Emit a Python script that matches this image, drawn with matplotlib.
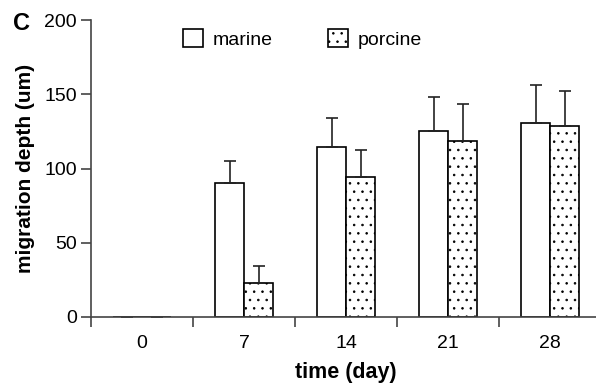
import numpy as np
import matplotlib
matplotlib.use("Agg")
import matplotlib.pyplot as plt

plt.rcParams['font.family'] = ['Liberation Sans', 'DejaVu Sans']
plt.rcParams['hatch.color'] = '#a0a0a0'
plt.rcParams['hatch.linewidth'] = 0.6

# data
days = ['0', '7', '14', '21', '28']
marine = [0, 90, 114.5, 125, 131]
marine_err = [0, 15, 19.5, 23, 25]
porcine = [0, 23, 94, 118.5, 129]
porcine_err = [0, 11.5, 18.5, 25, 23.5]

fig = plt.figure(figsize=(5.96, 3.88), dpi=100)
ax = fig.add_axes([0.1527, 0.183, 0.856, 0.765])

x = np.arange(len(days))
w = 0.285
ax.bar(x - w/2, marine, w, color='white', edgecolor='black', linewidth=1.2, label='marine')
ax.bar(x + w/2, porcine, w, color='white', edgecolor='black', linewidth=1.2,
       hatch='..', label='porcine')
ax.errorbar(x - w/2, marine, yerr=[np.zeros(len(x)), marine_err], fmt='none',
            ecolor='#222222', elinewidth=1.2, capsize=4, capthick=1.2)
ax.errorbar(x + w/2, porcine, yerr=[np.zeros(len(x)), porcine_err], fmt='none',
            ecolor='#222222', elinewidth=1.2, capsize=4, capthick=1.2)

ax.set_xlim(-0.5, 4.5)
ax.set_ylim(0, 200)
ax.set_yticks([0, 50, 100, 150, 200])
ax.set_xticks(np.arange(-0.5, 4.5, 1))
ax.set_xticklabels([])
ax.set_xticks(x, minor=True)
ax.set_xticklabels(days, minor=True)
ax.tick_params(axis='x', which='minor', length=0, pad=13, labelsize=14)
ax.tick_params(axis='x', which='major', length=7, width=1.2, color='#444444')
ax.tick_params(axis='y', length=7, width=1.2, color='#444444', labelsize=14, pad=3)
for s in ['top', 'right']:
    ax.spines[s].set_visible(False)
for s in ['left', 'bottom']:
    ax.spines[s].set_color('#444444')
    ax.spines[s].set_linewidth(1.2)

ax.set_xlabel('time (day)', fontsize=15.5, fontweight='bold', labelpad=7)
ax.set_ylabel('migration depth (um)', fontsize=15, fontweight='bold', labelpad=7)

leg = ax.legend(loc='upper left', bbox_to_anchor=(183/596, 1 - 29/388),
                bbox_transform=fig.transFigure, ncol=2, frameon=False,
                fontsize=14, handlelength=1.03, handleheight=1.03, columnspacing=2.85,
                handletextpad=0.5, borderpad=0, borderaxespad=0)

fig.text(13/596, 1 - 23/388, 'C', fontsize=17, fontweight='bold', va='center', ha='left')
fig.text(298/596, 1.022, 'B', fontsize=17, fontweight='bold', va='center', ha='center')

fig.savefig('out.png', dpi=100)
